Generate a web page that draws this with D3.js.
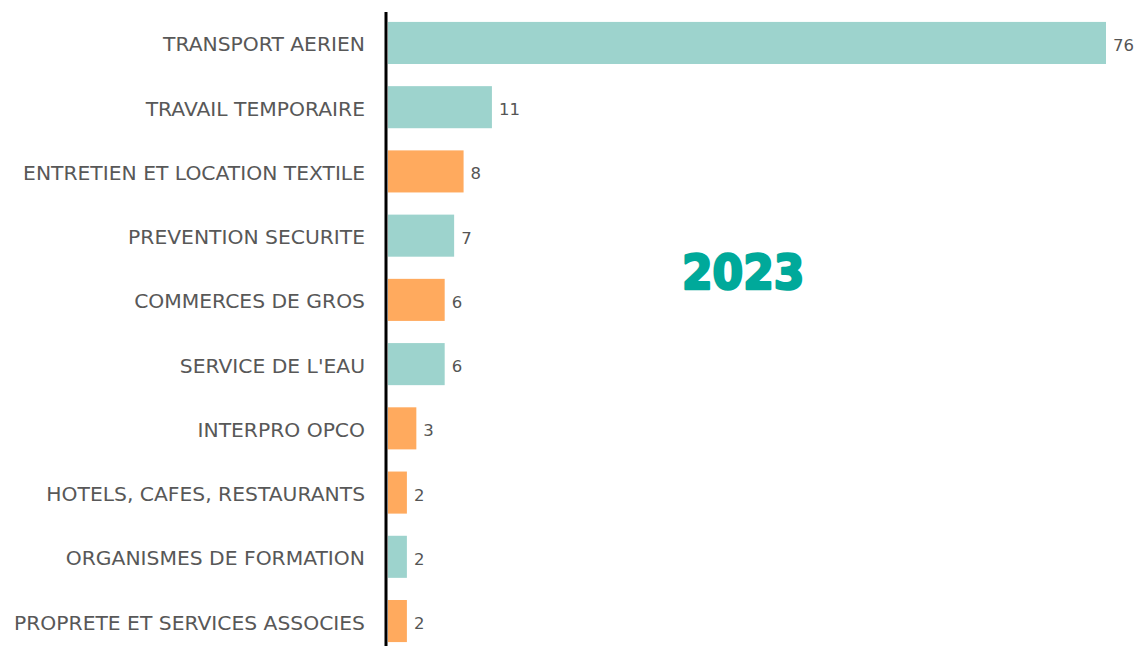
<!DOCTYPE html>
<html>
<head>
<meta charset="utf-8">
<script src="https://cdn.jsdelivr.net/npm/d3@7"></script>
<style>
  html, body { margin: 0; padding: 0; background: #ffffff; }
  svg { display: block; }
</style>
</head>
<body>
<svg id="chart" width="1138" height="646"></svg>
<script>
// Sectors, counts and bar colour group (0 = teal, 1 = orange)
const sectors = [
  "TRANSPORT AERIEN",
  "TRAVAIL TEMPORAIRE",
  "ENTRETIEN ET LOCATION TEXTILE",
  "PREVENTION SECURITE",
  "COMMERCES DE GROS",
  "SERVICE DE L'EAU",
  "INTERPRO OPCO",
  "HOTELS, CAFES, RESTAURANTS",
  "ORGANISMES DE FORMATION",
  "PROPRETE ET SERVICES ASSOCIES"
];
const counts = [76, 11, 8, 7, 6, 6, 3, 2, 2, 2];
const groups = [0, 0, 1, 0, 1, 0, 1, 1, 0, 1];
const palette = ["#9dd3cd", "#ffaa5e"];
const yearLabel = "2023";

const svg = d3.select("#chart");
const axisX = 386;
const plotTop = 11, plotBottom = 653;
const labelFont = "'DejaVu Sans', Verdana, sans-serif";

const x = d3.scaleLinear().domain([0, 76]).range([axisX + 2, 1106]);
const y = d3.scaleBand().domain(sectors).range([plotTop, plotBottom]).paddingInner(0.345).paddingOuter(0.17);

// bars
svg.append("g").selectAll("rect")
  .data(sectors)
  .join("rect")
  .attr("x", x(0))
  .attr("y", d => y(d))
  .attr("width", (d, i) => x(counts[i]) - x(0))
  .attr("height", y.bandwidth())
  .attr("fill", (d, i) => palette[groups[i]]);

// value labels
svg.append("g").selectAll("text")
  .data(sectors)
  .join("text")
  .attr("x", (d, i) => x(counts[i]) + 7)
  .attr("y", d => y(d) + y.bandwidth() / 2 + 2)
  .attr("dy", "0.36em")
  .attr("font-family", labelFont)
  .attr("font-size", 16.5)
  .attr("fill", "#555555")
  .text((d, i) => counts[i]);

// category axis
const yAxis = d3.axisLeft(y).tickSize(0).tickPadding(21);
const g = svg.append("g").attr("transform", `translate(${axisX},2)`).call(yAxis);
g.select(".domain").remove();
g.selectAll("text")
  .attr("font-family", labelFont)
  .attr("font-size", 20.3)
  .attr("fill", "#585858");

svg.append("line")
  .attr("x1", axisX).attr("x2", axisX)
  .attr("y1", 12).attr("y2", 646)
  .attr("stroke", "#000000")
  .attr("stroke-width", 3);

// year title
svg.append("text")
  .attr("transform", "translate(682,289) scale(1,1.08)")
  .attr("font-family", "'DejaVu Sans', sans-serif")
  .attr("font-weight", "bold")
  .attr("font-size", 44)
  .attr("fill", "#00a99a")
  .attr("stroke", "#00a99a")
  .attr("stroke-width", 2.4)
  .attr("stroke-linejoin", "round")
  .text(yearLabel);
</script>
</body>
</html>
